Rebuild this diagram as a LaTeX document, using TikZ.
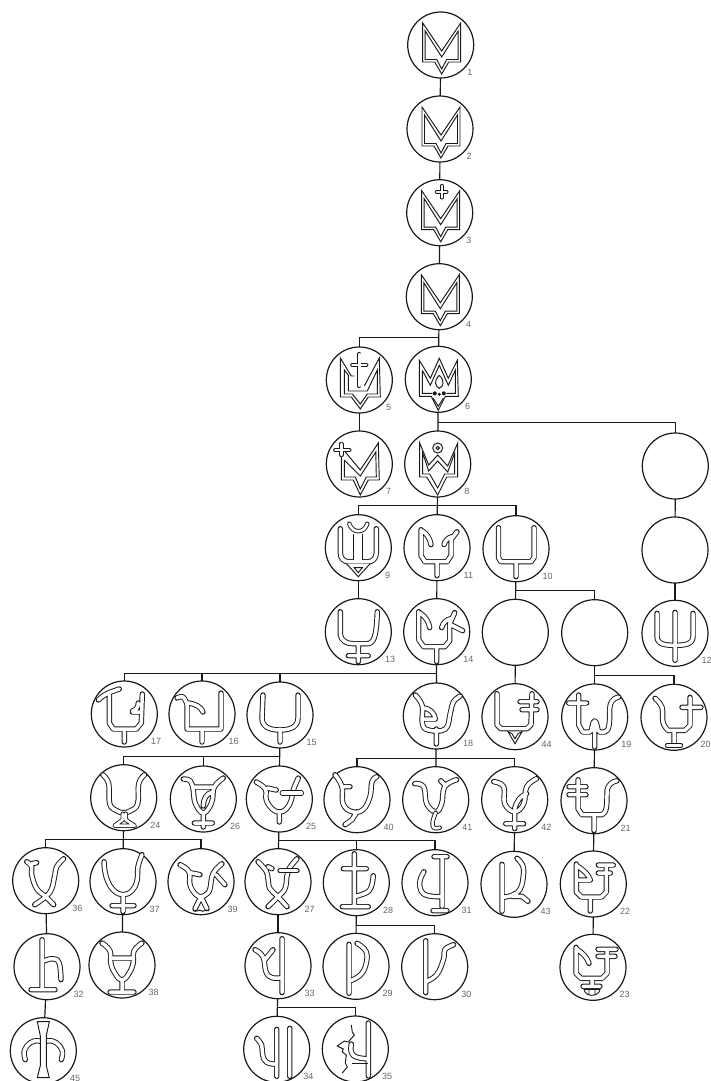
\documentclass[tikz,border=0pt]{standalone}
\usepackage{fontspec}
\setmainfont{Liberation Sans}
\tikzset{
 sgn/.style={circle,draw=black!90,line width=1.2pt,minimum size=66pt,inner sep=0pt,outer sep=0pt},
 num/.style={text=black!60,font=\fontsize{9}{10}\selectfont,inner sep=0pt,anchor=west},
 con/.style={draw=black!90,line width=1.2pt},
 gl/.style={draw=black!90,double=white,double distance=3.5pt,line width=.95pt,line cap=round,line join=round},
 gn/.style={draw=black!90,double=white,double distance=2.6pt,line width=.9pt,line cap=round,line join=round},
 pl/.style={draw=black!90,line width=.95pt,line join=miter},
}
\newcommand\sgnat[4]{\node[sgn] (n#1) at (#2,#3) {};
 \node[num] (l#1) at (#2,#3) [xshift=26.5pt,yshift=-27.5pt] {#4};}
\newcommand\blank[3]{\node[sgn] (#1) at (#2,#3) {};}
\newcommand\gly[2]{\begin{scope}[shift={(n#1)}]#2\end{scope}}
\newcommand\cv[1]{plot[smooth,tension=.7] coordinates {#1}}
\newcommand\shieldA{
 \draw[pl] (-18,-22)--(-18,17)--(-6,17)--(1,29)--(8,17)--(20,17)--(20,-22)--(1,6)--cycle;
 \draw[pl] (-15.5,-14)--(-15.5,14.5)--(-4,14.5)--(1,24)--(6,14.5)--(17.5,14.5)--(17.5,-14)--(1,12)--cycle;
}
\begin{document}
\begin{tikzpicture}[x=1pt,y=-1pt]
\useasboundingbox (0,0) rectangle (711,1081);
\sgnat{1}{440.7}{45}{1}
\sgnat{2}{440}{129}{2}
\sgnat{3}{439.7}{212.7}{3}
\sgnat{4}{439.3}{296.7}{4}
\sgnat{5}{359.3}{380}{5}
\sgnat{6}{438.3}{379.3}{6}
\sgnat{7}{359.3}{464}{7}
\sgnat{8}{437.7}{464}{8}
\sgnat{9}{358.3}{547.7}{9}
\sgnat{11}{437}{547.7}{11}
\sgnat{10}{516}{548.7}{10}
\blank{ra}{675.3}{466}
\blank{rb}{675}{550}
\sgnat{12}{675}{633.3}{12}
\sgnat{13}{358.3}{631.7}{13}
\sgnat{14}{436.7}{631.7}{14}
\blank{ea}{515.3}{632.3}
\blank{eb}{594.7}{632.7}
\sgnat{17}{124.3}{714}{17}
\sgnat{16}{202}{714}{16}
\sgnat{15}{280}{715}{15}
\sgnat{18}{436.3}{716}{18}
\sgnat{44}{515}{716.7}{44}
\sgnat{19}{594.7}{717}{19}
\sgnat{20}{674}{717.3}{20}
\sgnat{24}{123.7}{797.7}{24}
\sgnat{26}{203.3}{799}{26}
\sgnat{25}{279.3}{799}{25}
\sgnat{40}{357}{799.7}{40}
\sgnat{41}{435.7}{799.7}{41}
\sgnat{42}{514.7}{799.7}{42}
\sgnat{21}{594}{800.7}{21}
\sgnat{36}{45.7}{880.7}{36}
\sgnat{37}{123}{881.7}{37}
\sgnat{39}{201}{881.7}{39}
\sgnat{27}{278}{881.7}{27}
\sgnat{28}{356.3}{882.7}{28}
\sgnat{31}{435}{882.7}{31}
\sgnat{43}{514}{884.3}{43}
\sgnat{22}{593.3}{884}{22}
\sgnat{32}{47}{966.7}{32}
\sgnat{38}{122}{965}{38}
\sgnat{33}{278}{965.7}{33}
\sgnat{29}{356}{966.3}{29}
\sgnat{30}{434.7}{966.7}{30}
\sgnat{23}{593}{967.3}{23}
\sgnat{45}{43.3}{1050.7}{45}
\sgnat{34}{276.7}{1049.3}{34}
\sgnat{35}{355.3}{1049}{35}
% connectors
\coordinate (b4) at (438.8,337.5);
\coordinate (b6) at (438,422.5);
\coordinate (b8) at (437.5,505.5);
\coordinate (b10) at (516,590.5);
\coordinate (b14) at (436.5,673.5);
\coordinate (bb) at (594.7,675.5);
\coordinate (b15) at (279.7,756.5);
\coordinate (b18) at (436,758.5);
\coordinate (b24) at (123.3,839.5);
\coordinate (b25) at (278.6,840.5);
\coordinate (b28) at (356.2,925.5);
\coordinate (b33) at (277.3,1007.5);
\draw[con] (n1)--(n2); \draw[con] (n2)--(n3); \draw[con] (n3)--(n4);
\draw[con] (n4)--(n6); \draw[con] (n5.north)|-(b4);
\draw[con] (n6)--(n8); \draw[con] (ra.north)|-(b6);
\draw[con] (n5)--(n7);
\draw[con] (n8)--(n11); \draw[con] (n9.north)|-(b8); \draw[con] (n10.north)|-(b8);
\draw[con] (n9)--(n13); \draw[con] (n11)--(n14);
\draw[con] (n10)--(ea); \draw[con] (eb.north)|-(b10);
\draw[con] (ra)--(rb); \draw[con] (rb)--(n12);
\draw[con] (n14)--(n18); \draw[con] (n17.north)|-(b14); \draw[con] (n16.north)|-(b14); \draw[con] (n15.north)|-(b14);
\draw[con] (ea)--(n44);
\draw[con] (eb)--(n19); \draw[con] (n20.north)|-(bb);
\draw[con] (n15)--(n25); \draw[con] (n24.north)|-(b15); \draw[con] (n26.north)|-(b15);
\draw[con] (n18)--(n41); \draw[con] (n40.north)|-(b18); \draw[con] (n42.north)|-(b18);
\draw[con] (n24)--(n37); \draw[con] (n36.north)|-(b24); \draw[con] (n39.north)|-(b24);
\draw[con] (n25)--(n27); \draw[con] (n28.north)|-(b25); \draw[con] (n31.north)|-(b25);
\draw[con] (n19)--(n21); \draw[con] (n21)--(n22); \draw[con] (n22)--(n23);
\draw[con] (n42)--(n43);
\draw[con] (n36)--(n32); \draw[con] (n37)--(n38); \draw[con] (n27)--(n33); \draw[con] (n32)--(n45);
\draw[con] (n28)--(n29); \draw[con] (n30.north)|-(b28);
\draw[con] (n33)--(n34); \draw[con] (n35.north)|-(b33);
% glyphs
\gly{1}{\shieldA}
\gly{2}{\shieldA}
\gly{3}{\shieldA \draw[gn,double distance=1.8pt] (2,-27)--(2,-15) (-3,-21)--(7,-21);}
\gly{4}{\shieldA}
\gly{5}{
 \draw[pl] (-5,-4)--(-8,-4)--(-19,-22)--(-19,17)--(-8,17)--(1,29)--(9,17)--(21,17)--(20,-22)--(5,6);
 \draw[pl] (-15,-10)--(-15,14)--(-7,14)--(1,24)--(8,14)--(18,14)--(18,-10)--(8,11)--(-11,11)--(-11,-5)--cycle;
 \draw[gn,double distance=2.4pt] (0,-26)--(0,6) (-7,-15)--(7,-15);
}
\gly{6}{
 \draw[pl] (-19,-19)--(-19,17)--(-7,17)--(0,31)--(7,17)--(20,17)--(19,-19)--(10,-1)--(1,-21)--(-8,-1)--cycle;
 \draw[pl] (-16,-9)--(-16,14)--(-6,14) (8,14)--(17,14)--(17,-9)--(10,6)--(1,-14)--(-8,6)--(-16,-9);
 \draw[pl] (-5,19)--(0,27)--(5,19);
 \draw[pl] (1,-4)..controls(-5,2)and(-3,7)..(1,9)..controls(5,7)and(7,2)..(1,-4);
 \fill[black!90] (-3.5,14) circle (2) (1,15) circle (1.7) (5.5,14) circle (2);
}
\gly{7}{
 \draw[pl] (-18,-9)--(-18,16)--(-6,16)--(1,31)--(9,16)--(20,16)--(19,-21)--(1,6)--(-14,-12);
 \draw[pl] (-15,-4)--(-15,13)--(-4,13)--(1,25)--(7,13)--(17,13)--(16.5,-12)--(1,12)--(-15,-4);
 \draw[gn] (-18,-20)--(-18,-9) (-24,-14)--(-10,-14);
}
\gly{8}{
 \draw[pl] (-18,-21)--(-18,13)--(-11,13)--(0,31)--(9,13)--(20,13)--(20,-21)--(10,2)--(0,-9)--(-9,1)--cycle;
 \draw[pl] (-15,-11)--(-15,10)--(-8,10)--(0,24)--(7,10)--(17,10)--(17,-11)--(10,8)--(0,-3)--(-9,7)--cycle;
 \draw[pl] (0,-16) circle (5); \draw[pl] (0,-16) circle (1.7);
}
\gly{9}{
 \draw[gl] (-18,-19)--(-18,5)..controls(-18,11)and(-14,14)..(-10,14)--(10,14)..controls(14,14)and(18,11)..(18,5)--(18,-19);
 \draw[pl,line cap=butt,double=white,double distance=8pt] (0,-14)--(0,12.3);
 \draw[gn] (-9,-24)..controls(-6,-14)and(6,-14)..(9,-24);
 \draw[pl,fill=white] (-12,15.8)--(0,29)--(12,15.8);
 \draw[pl,fill=white] (-4,20)--(4,20)--(0,25)--cycle;
}
\gly{10}{\draw[gl] (-17.5,-21)--(-17.5,9)--(-15,13)--(15,13)--(18,9)--(18,-21) (0,13)--(0,28);}
\gly{11}{\draw[gl] (-16,-18)--(-16,8)--(-12,14)--(10,14)--(14,8)--(14,-8)--(20,-16) (-15,-17)..controls(-10,-14)and(-7,-9)..(-6,-3) (15,-11)..controls(11,-10)and(8,-7)..(7,-3) (0,14)--(0,28);}
\gly{12}{\draw[gl] (-18,-20)--(-18,3)..controls(-18,11)and(-10,12)..(0,12)..controls(10,12)and(18,11)..(18,3)--(18,-20) (0,-21)--(0,27);}
\gly{13}{\draw[gl] (-18,-20)--(-18,3)..controls(-17,9)and(-12,12)..(-5,12)--(8,12)..controls(15,12)and(18,8)..(19,-20) (0,12)--(0,30) (-10,24)--(10,24);}
\gly{14}{\draw[gl] (-18,-20)--(-18,8)--(-13,15)--(8,15)--(13,9)--(13,-8)--(18,-19)
  (-17,-19)..controls(-11,-15)and(-8,-10)..(-7,-4) (14,-13)..controls(10,-12)and(6,-9)..(5,-4) (14,-7)--(26,-1) (0,15)--(0,30);}
\gly{15}{\draw[gl] (-17,-20)--(-18,3)..controls(-18,12)and(-10,15)..(0,15)..controls(10,15)and(18,12)..(18,3)--(18,-20) (0,15)--(0,27);}
\gly{16}{\draw[gl] \cv{(-25,-16)(-19,-17)(-15,-10)} --(-15,15)--(19,15)--(19,-21) (-14,-11)..controls(-6,-10)and(-1,-7)..(1,-2) (0,15)--(0,28);}
\gly{17}{\draw[gl] \cv{(-26,-14)(-18,-20)(-5,-25)} (-15,-19)--(-15,9)--(-11,15)--(12,15)--(17,9)--(18,-20) (0,15)--(0,28) (8,-2)--(15,-2) (8,-3)..controls(12,-4)and(14,-7)..(14,-11);}
\gly{18}{\draw[gl] \cv{(-21,-21)(-14,-10)(-14,7)(-8,14)(9,13)(14,-3)(17,-14)(24,-20)} (-12,-8)..controls(-6,-7)and(-2,-3)..(-1,3) (-1,3)--(-12,3) (0,13)--(0,28);}
\gly{19}{\draw[gl] (-16,-22)--(-16,8)--(-12,15)--(-5,15)..controls(-2,15)and(-3,4)..(0,4)..controls(3,4)and(2,15)..(5,15)--(10,15)..controls(15,14)and(15,5)..(15,-8)..controls(15,-14)and(18,-19)..(24,-20) (-26,-14)--(-8,-14) (0,4)--(0,30);}
\gly{20}{\draw[gl] \cv{(-19,-19)(-12,-10)(-11,5)(-6,13)} (-6,13)--(11,13)--(16,8)--(16,-20) (8,-10)--(27,-10) (0,13)--(0,27);
  \draw[gn] (-7,28)--(7,28);}
\gly{21}{\draw[gl] (-16,-21)--(-16,8)--(-12,14)--(8,14)..controls(13,12)and(13,4)..(13,-10)..controls(14,-16)and(18,-19)..(23,-20) (-25,-14)--(-8,-14) (-25,-6)--(-8,-6) (0,14)--(0,30);}
\gly{22}{\draw[gl] (-17,-20)--(-17,8)--(-12,13)--(8,13)--(13,8)--(13,-19) (-16,-18)..controls(-10,-14)and(-5,-10)..(-3,-4) (-16,-4)--(-3,-4) (5,-19)--(20,-19) (5,-11)--(17,-11) (-3,13)--(-3,27);}
\gly{23}{\draw[gl] (-17,-20)--(-17,6)--(-12,11)--(9,11)--(14,6)--(14,-18) (-16,-18)..controls(-10,-14)and(-6,-10)..(-4,-4) (5,-18)--(23,-18) (5,-11)--(22,-11) (-1,11)--(-1,19) (-10,19)--(7,19);
 \draw[pl,fill=white] (-9,22)--(7,22)..controls(6,30)and(-8,30)..(-9,22)--cycle (-4,22)--(-4,28) (2,22)--(2,28);}
\gly{24}{\draw[gl] \cv{(-21,-23)(-15,-14)(-14,6)(-7,13)(0,15)(7,13)(14,6)(15,-14)(21,-23)};
 \draw[gn] (-1,16)--(-1,22)--(-9,28)--(11,28)--(2,22)--(2,16);}
\gly{25}{\draw[gl] \cv{(-23,-17)(-14,-10)(-13,1)(-7,10)(0,13)(7,10)(12,1)(14,-9)(19,-21)} (-12,-11)--(-3,-9) (0,13)--(0,23);
 \draw[gl] (3,-6)--(22,-6);}
\gly{26}{\draw[gl] \cv{(-20,-20)(-13,-18)(-10,-9)(-9,1)(-5,10)(0,14)(5,10)(9,1)(11,-12)(20,-21)} (-10,-12)--(11,-12) (0,14)--(0,28) (-9,24)--(9,24) (10,-7)..controls(3,-6)and(0,0)..(0,7);}
\gly{27}{\draw[gl] \cv{(-20,-20)(-12,-11)(-10,-3)(-8,7)(0,15)(9,25)} \cv{(19,-23)(11,-13)(9,-6)(7,7)(0,15)(-10,25)} (-10,-15)--(-6,-13);
 \draw[gl] (2,-11)--(19,-11);}
\gly{28}{\draw[gl] (-2,-29)--(-2,24) (-13,-14)--(10,-14) (-14,24)--(12,24) \cv{(-2,14)(10,10)(15,4)(17,-7)};}
\gly{29}{\draw[gl] (-7,-22)--(-7,27) \cv{(-7,15)(4,9)(10,-2)(10,-15)(1,-23)};}
\gly{30}{\draw[gl] (-9,-26)--(-9,26) \cv{(-9,15)(2,8)(9,-8)(10,-17)(19,-22)};}
\gly{31}{\draw[gl] (7,-26)--(7,24) (-1,-26)--(12,-26) (-2,28)--(12,28) \cv{(-11,-11)(-15,-2)(-14,8)(-7,13)(7,14)};}
\gly{32}{\draw[gl] (-5,-27)--(-5,22) (-16,23)--(8,23) \cv{(-5,-5)(5,-8)(12,-4)(14,13)};}
\gly{33}{\draw[gl] (4,-27)--(4,27) \cv{(4,12)(-6,12)(-12,6)(-15,-9)(-23,-16)} (-5,-16)--(-13,-6);}
\gly{34}{\draw[gl] (0,-20)--(0,27) (13,-21)--(13,27) \cv{(0,15)(-10,13)(-14,6)(-15,-4)(-20,-11)};}
\gly{35}{\draw[gl] (13,-26)--(13,27) \cv{(-4,-5)(-4,3)(1,8)(13,10)};
 \draw[pl] (-4,-24)--(-3,-17)--(-1,-14)--(-7,-7)--(-11,-8)--(-18,-3)--(-12,0)--(-13,3)--(-9,6)--(-10,14)--(-8,18)--(-13,24);
 \draw[pl] (-3,14)--(13,14);}
\gly{36}{\draw[gl] \cv{(-19,-19)(-14,-14)(-14,-6)(-9,8)(0,16)(8,24)} \cv{(18,-22)(11,-14)(9,-5)(6,8)(0,16)(-11,24)} (-14,-17)--(-9,-18);}
\gly{37}{\draw[gl] \cv{(-19,-20)(-18,-10)(-15,0)(-9,9)(0,13)(9,9)(14,-1)(15,-15)(19,-27)} (0,13)--(0,30) (-11,24)--(11,24);}
\gly{38}{\draw[gl] \cv{(-20,-22)(-12,-14)(-11,-1)(-6,10)(0,15)(6,10)(11,-1)(12,-14)(20,-22)} (-10,-7)--(10,-7) (0,15)--(0,26) (-12,27)--(12,27);}
\gly{39}{\draw[gl] \cv{(-21,-17)(-12,-10)(-11,3)(-6,12)(0,15)(6,12)(9,7)(12,-8)(21,-18)} (-11,-9)--(-1,-7) (15,-7)--(24,3) (0,15)--(-6,27) (0,15)--(6,27);
 \draw[pl] (-8,29)..controls(-4,31)and(-2,27)..(0,29)..controls(2,31)and(4,27)..(8,29);}
\gly{40}{\draw[gl] \cv{(-22,-25)(-15,-13)(-14,4)(-5,12)(6,10)(13,-3)(15,-18)(20,-23)} (-15,-13)--(-7,-13) (0,12)--(-5,20)--(-12,25);}
\gly{41}{\draw[gl] \cv{(-21,-16)(-12,-13)(-9,4)(0,12)(6,4)(9,-13)(21,-20)} (10,-14)--(5,-19);
 \draw[gn] \cv{(0,13)(-3,22)(-2,28)(4,28)};}
\gly{42}{\draw[gl] \cv{(-21,-18)(-11,-13)(-10,4)(0,12)(9,4)(12,-13)(22,-21)} (12,-6)..controls(6,-4)and(2,1)..(0,9) (0,12)--(0,29) (-9,24)--(9,24);}
\gly{43}{\draw[gl] (-12,-20)--(-12,27) \cv{(3,-26)(9,-18)(9,-6)(6,5)(-2,11)(-12,13)} (-2,12)--(8,12)--(14,17);}
\gly{44}{\draw[gl] (-18,-23)--(-18,8)--(-14,12)--(12,12)--(16,8)--(17,-23) (5,-15)--(22,-15) (7,-7)--(22,-7);
 \draw[pl,fill=white] (-7,15)--(-3,17)--(0,22)--(3,17)--(7,15)--(0,27)--cycle;}
\gly{45}{\draw[gl] \cv{(-18,9)(-19,0)(-13,-8)(-5,-10)(0,-8)} \cv{(18,9)(19,0)(13,-8)(5,-10)(0,-8)};
 \draw[pl,fill=white] (-6,-29)--(6,-29)--(3,-15)--(3,15)--(6,27)--(-6,27)--(-3,15)--(-3,-15)--cycle;}
\end{tikzpicture}
\end{document}
